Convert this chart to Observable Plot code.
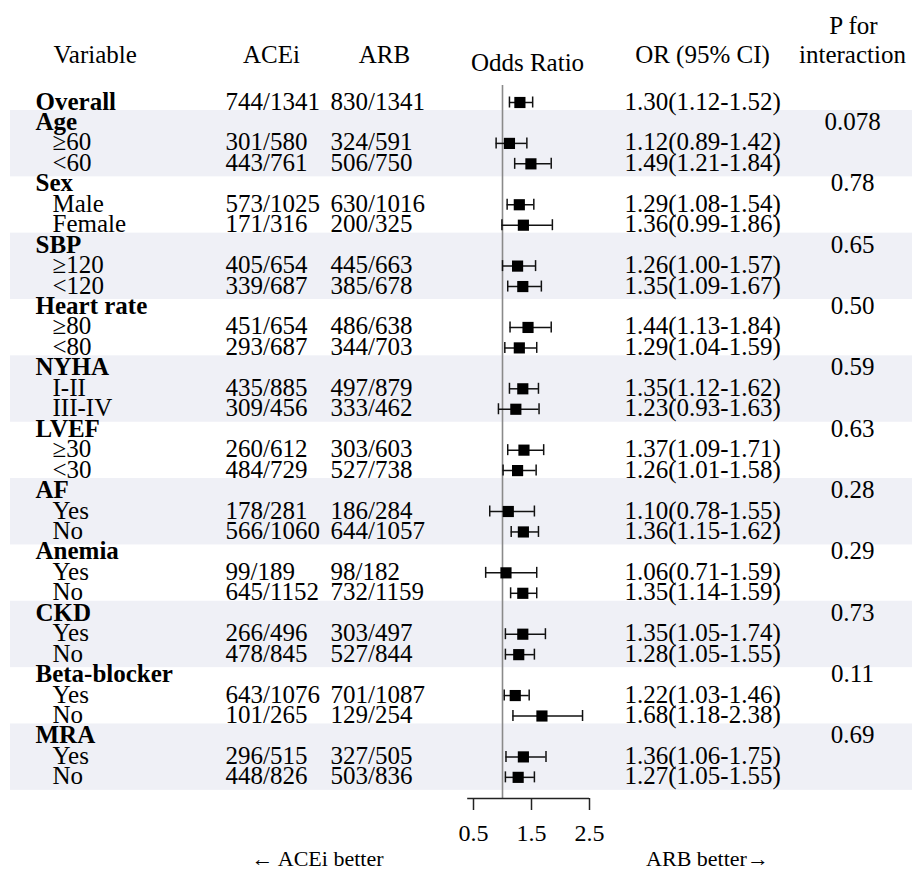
<!DOCTYPE html>
<html>
<head>
<meta charset="utf-8">
<script src="https://cdn.jsdelivr.net/npm/d3@7"></script>
<script src="https://cdn.jsdelivr.net/npm/@observablehq/plot@0.6"></script>
<style>
  body { margin: 0; background: #fff; }
  #chart svg { display: block; }
  #chart svg, #chart svg text { font-family: "Liberation Serif", "Times New Roman", serif; }
</style>
</head>
<body>
<div id="chart"></div>
<script>
// Subgroup analysis: ACEi vs ARB, odds ratios with 95% CI
const variables = ["Overall", "Age", "≥60", "<60", "Sex", "Male", "Female", "SBP", "≥120", "<120",
  "Heart rate", "≥80", "<80", "NYHA", "I-II", "III-IV", "LVEF", "≥30", "<30", "AF", "Yes", "No",
  "Anemia", "Yes", "No", "CKD", "Yes", "No", "Beta-blocker", "Yes", "No", "MRA", "Yes", "No"];
const groupHeaders = ["Overall", "Age", "Sex", "SBP", "Heart rate", "NYHA", "LVEF", "AF",
  "Anemia", "CKD", "Beta-blocker", "MRA"];
const shadedGroups = ["Age", "SBP", "NYHA", "AF", "CKD", "MRA"];

const aceiEvents = [744, null, 301, 443, null, 573, 171, null, 405, 339, null, 451, 293, null, 435, 309, null,
  260, 484, null, 178, 566, null, 99, 645, null, 266, 478, null, 643, 101, null, 296, 448];
const aceiTotal = [1341, null, 580, 761, null, 1025, 316, null, 654, 687, null, 654, 687, null, 885, 456, null,
  612, 729, null, 281, 1060, null, 189, 1152, null, 496, 845, null, 1076, 265, null, 515, 826];
const arbEvents = [830, null, 324, 506, null, 630, 200, null, 445, 385, null, 486, 344, null, 497, 333, null,
  303, 527, null, 186, 644, null, 98, 732, null, 303, 527, null, 701, 129, null, 327, 503];
const arbTotal = [1341, null, 591, 750, null, 1016, 325, null, 663, 678, null, 638, 703, null, 879, 462, null,
  603, 738, null, 284, 1057, null, 182, 1159, null, 497, 844, null, 1087, 254, null, 505, 836];

const oddsRatio = [1.30, null, 1.12, 1.49, null, 1.29, 1.36, null, 1.26, 1.35, null, 1.44, 1.29, null, 1.35, 1.23, null,
  1.37, 1.26, null, 1.10, 1.36, null, 1.06, 1.35, null, 1.35, 1.28, null, 1.22, 1.68, null, 1.36, 1.27];
const ciLow = [1.12, null, 0.89, 1.21, null, 1.08, 0.99, null, 1.00, 1.09, null, 1.13, 1.04, null, 1.12, 0.93, null,
  1.09, 1.01, null, 0.78, 1.15, null, 0.71, 1.14, null, 1.05, 1.05, null, 1.03, 1.18, null, 1.06, 1.05];
const ciHigh = [1.52, null, 1.42, 1.84, null, 1.54, 1.86, null, 1.57, 1.67, null, 1.84, 1.59, null, 1.62, 1.63, null,
  1.71, 1.58, null, 1.55, 1.62, null, 1.59, 1.59, null, 1.74, 1.55, null, 1.46, 2.38, null, 1.75, 1.55];
const pInteraction = [null, "0.078", null, null, "0.78", null, null, "0.65", null, null, "0.50", null, null,
  "0.59", null, null, "0.63", null, null, "0.28", null, null, "0.29", null, null, "0.73", null, null,
  "0.11", null, null, "0.69", null, null];

const xTicks = [0.5, 1.5, 2.5];
const xLimits = [0.4, 2.5];
const refValue = 1;

// ---- layout ----
const W = 912, H = 870;
const plotTop = 85, plotBottom = 798;
const rowStart = 109, rowStep = 20.45;        // baseline of first row, row pitch
const boxLift = -7;                           // marker centre relative to text baseline
const capHalf = 5.5 / rowStep;                // half cap height in row units
const xPxDomain = [0.5, 2.5], xPxRange = [473, 589];
const fontMain = 25;
const serif = "'Liberation Serif', 'Times New Roman', serif";

// ---- table ----
const rows = variables.map((v, i) => ({
  row: i,
  label: v,
  header: groupHeaders.includes(v) && (i === 0 || aceiEvents[i] === null),
  acei: aceiEvents[i] == null ? "" : `${aceiEvents[i]}/${aceiTotal[i]}`,
  arb: arbEvents[i] == null ? "" : `${arbEvents[i]}/${arbTotal[i]}`,
  or: oddsRatio[i], lo: ciLow[i], hi: ciHigh[i],
  orText: oddsRatio[i] == null ? "" :
    `${oddsRatio[i].toFixed(2)}(${ciLow[i].toFixed(2)}-${ciHigh[i].toFixed(2)})`,
  p: pInteraction[i]
}));
const estimates = rows.filter(d => d.or != null);
const headerIdx = rows.filter(d => d.header).map(d => d.row);
const bands = shadedGroups.map(g => {
  const start = rows.find(d => d.header && d.label === g).row;
  const next = headerIdx.find(i => i > start);
  return {y1: start, y2: (next === undefined ? rows.length : next) - 1};
});
const axisRow = (plotBottom - rowStart) / rowStep;

const txt = (data, opts) => Plot.text(data, {
  frameAnchor: "left", y: "row", lineAnchor: "bottom", fontSize: fontMain, fontFamily: serif, ...opts
});
const head = (label, x, baseline, anchor = "middle") => Plot.text([label], {
  frameAnchor: "top-left", dx: x, dy: baseline - plotTop, lineAnchor: "bottom",
  textAnchor: anchor, fontSize: fontMain, fontFamily: serif
});
const foot = (label, x, baseline) => Plot.text([label], {
  frameAnchor: "bottom-left", dx: x, dy: baseline - plotBottom, lineAnchor: "bottom",
  textAnchor: "middle", fontSize: 22, fontFamily: serif
});

const chart = Plot.plot({
  width: W, height: H,
  marginTop: plotTop, marginBottom: H - plotBottom, marginLeft: 0, marginRight: 0,
  style: {fontFamily: serif, color: "#000", background: "#fff"},
  x: {type: "linear", domain: xPxDomain, range: xPxRange},
  y: {domain: [0, rows.length - 1], range: [rowStart, rowStart + rowStep * (rows.length - 1)], axis: null},
  marks: [
    // alternating group shading
    Plot.rect(bands, {y1: "y1", y2: "y2", fill: "#eff0f6", insetTop: -19.5, insetBottom: -6, insetLeft: 10}),
    // line of no effect
    Plot.ruleX([refValue], {stroke: "#8a8a8a", strokeWidth: 1.6}),
    // confidence intervals with end caps
    Plot.ruleY(estimates, {y: "row", x1: "lo", x2: "hi", dy: boxLift, stroke: "#111", strokeWidth: 1.5}),
    Plot.ruleX(estimates, {x: "lo", y1: d => d.row - capHalf, y2: d => d.row + capHalf, dy: boxLift, stroke: "#111", strokeWidth: 1.5}),
    Plot.ruleX(estimates, {x: "hi", y1: d => d.row - capHalf, y2: d => d.row + capHalf, dy: boxLift, stroke: "#111", strokeWidth: 1.5}),
    Plot.dot(estimates, {x: "or", y: "row", dy: boxLift, symbol: "square", r: 6.3, fill: "#000", stroke: null}),
    // x axis
    Plot.ruleY([axisRow], {x1: xLimits[0], x2: xLimits[1], stroke: "#222", strokeWidth: 1.5}),
    Plot.axisX({ticks: xTicks, tickSize: 12, tickPadding: 13, fontSize: 24, fontFamily: serif,
      stroke: "#222", strokeWidth: 1.5, tickFormat: d => d.toFixed(1), label: null}),
    // table columns
    txt(rows.filter(d => d.header), {text: "label", dx: 35, fontWeight: "bold"}),
    txt(rows.filter(d => !d.header), {text: "label", dx: 52}),
    txt(rows, {text: "acei", dx: 225}),
    txt(rows, {text: "arb", dx: 330}),
    txt(rows, {text: "orText", dx: 624}),
    txt(rows.filter(d => d.p), {text: "p", dx: 852, textAnchor: "middle"}),
    // column headings
    head("Variable", 53, 62, "start"),
    head("ACEi", 271, 62),
    head("ARB", 384, 62),
    head("Odds Ratio", 527, 70),
    head("OR (95% CI)", 702, 62),
    head("P for", 853, 33),
    head("interaction", 852, 62),
    // direction labels
    foot("← ACEi better", 317, 865),
    foot("ARB better→", 707, 865)
  ]
});
document.getElementById("chart").appendChild(chart);
</script>
</body>
</html>
